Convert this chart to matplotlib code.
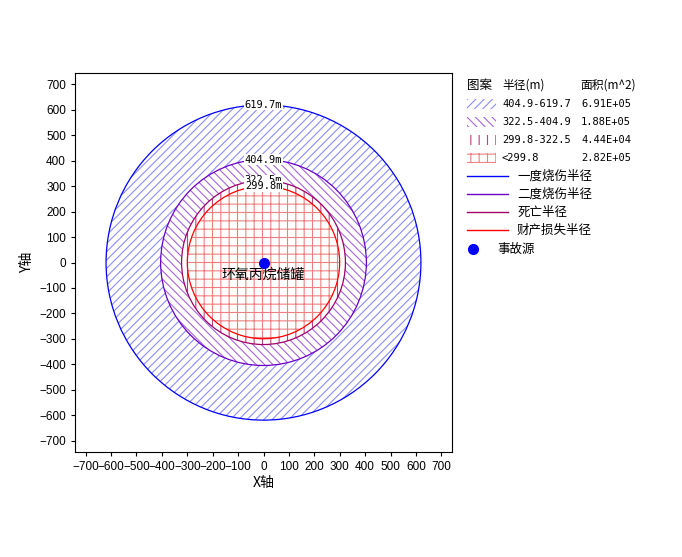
import numpy as np
import matplotlib
matplotlib.use('Agg')
import matplotlib.pyplot as plt
from matplotlib.patches import Wedge, Circle, Rectangle
from matplotlib.lines import Line2D

plt.rcParams['font.family'] = ['Liberation Sans', 'Noto Sans CJK SC', 'DejaVu Sans']
plt.rcParams['axes.unicode_minus'] = True
plt.rcParams['hatch.linewidth'] = 0.8

# 半径数据（由外到内）
radii = [619.7, 404.9, 322.5, 299.8]
radius_labels = ['619.7m', '404.9m', '322.5m', '299.8m']
range_labels = ['404.9-619.7', '322.5-404.9', '299.8-322.5', '<299.8']
area_labels = ['6.91E+05', '1.88E+05', '4.44E+04', '2.82E+05']
line_names = ['一度烧伤半径', '二度烧伤半径', '死亡半径', '财产损失半径']
source_name = '事故源'
tank_name = '环氧丙烷储罐'
ticks = list(range(-700, 701, 100))

line_colors = ['#0000ff', '#6a00c8', '#a0006a', '#ff0000']
hatch_colors = ['#8c8cff', '#a566dd', '#c0407a', '#f08080']
hatches = ['////', '\\\\\\\\', '||', '++']

mono = ['DejaVu Sans Mono', 'Noto Sans CJK SC']
cjk = ['Noto Sans CJK SC', 'DejaVu Sans']

fig = plt.figure(figsize=(6.82, 5.57), dpi=100)
ax = fig.add_axes([75/682, 1-452/557, 377/682, 379/557])

# 填充环带
for i, r in enumerate(radii):
    if i < len(radii) - 1:
        p = Wedge((0, 0), r, 0, 360, width=r - radii[i+1],
                  facecolor='none', edgecolor=hatch_colors[i], hatch=hatches[i], lw=0)
    else:
        p = Circle((0, 0), r, facecolor='none', edgecolor=hatch_colors[i], hatch=hatches[i], lw=0)
    ax.add_patch(p)

# 半径圆线
for r, c in zip(radii, line_colors):
    ax.add_patch(Circle((0, 0), r, facecolor='none', edgecolor=c, lw=0.9))

# 半径标注
for r, lab in zip(radii, radius_labels):
    ax.text(0, r, lab, ha='center', va='center', fontsize=7.5, family=mono,
            bbox=dict(facecolor='white', edgecolor='none', pad=0.3))

ax.plot([0], [0], 'o', color='#0000ff', ms=7)
ax.text(0, -50, tank_name, ha='center', va='center', fontsize=10, family=cjk)

ax.set_xlim(-742, 742)
ax.set_ylim(-745, 745)
ax.set_aspect('auto')
ax.set_xticks(ticks)
ax.set_yticks(ticks)
ax.tick_params(labelsize=8.5, length=3, width=0.8)
ax.set_xlabel('X轴', fontsize=10, family=cjk, labelpad=2)
ax.set_ylabel('Y轴', fontsize=10, family=cjk, labelpad=4)
for s in ax.spines.values():
    s.set_linewidth(0.8)

# 图例（手工绘制，像素坐标）
lg = fig.add_axes([0, 0, 1, 1])
lg.set_xlim(0, 682)
lg.set_ylim(557, 0)
lg.axis('off')
lg.text(467, 85, '图案', fontsize=9, va='center', family=cjk)
lg.text(502, 85, '半径(m)', fontsize=8.5, va='center', family=cjk)
lg.text(580, 85, '面积(m^2)', fontsize=8.5, va='center', family=cjk)
for i in range(len(radii)):
    y = 104 + 18 * i
    lg.add_patch(Rectangle((467, y - 5), 29, 10, facecolor='none',
                           edgecolor=hatch_colors[i], hatch=hatches[i], lw=0))
    lg.text(502, y, range_labels[i], fontsize=7.5, va='center', family=mono)
    lg.text(581, y, area_labels[i], fontsize=7.5, va='center', family=mono)
for i in range(len(line_names)):
    y = 176 + 18 * i
    lg.add_line(Line2D([467, 508], [y, y], color=line_colors[i], lw=1))
    lg.text(517, y, line_names[i], fontsize=9, va='center', family=cjk)
lg.plot([473], [249], 'o', color='#0000ff', ms=7)
lg.text(497, 249, source_name, fontsize=9, va='center', family=cjk)

fig.savefig('out.png', dpi=100)
